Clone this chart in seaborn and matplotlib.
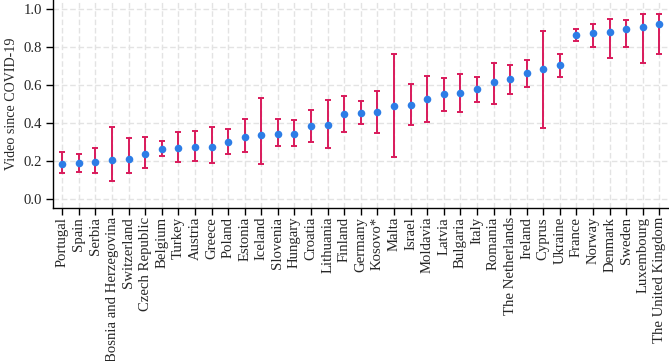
import numpy as np
import pandas as pd
import matplotlib
matplotlib.use("Agg")
import matplotlib.pyplot as plt
import seaborn as sns

countries = ["Portugal", "Spain", "Serbia", "Bosnia and Herzegovina", "Switzerland",
             "Czech Republic", "Belgium", "Turkey", "Austria", "Greece", "Poland",
             "Estonia", "Iceland", "Slovenia", "Hungary", "Croatia", "Lithuania",
             "Finland", "Germany", "Kosovo*", "Malta", "Israel", "Moldavia", "Latvia",
             "Bulgaria", "Italy", "Romania", "The Netherlands", "Ireland", "Cyprus",
             "Ukraine", "France", "Norway", "Denmark", "Sweden", "Luxembourg",
             "The United Kingdom"]
estimate = [0.186, 0.189, 0.195, 0.205, 0.214, 0.240, 0.265, 0.272, 0.277, 0.277,
            0.302, 0.330, 0.340, 0.346, 0.346, 0.384, 0.389, 0.447, 0.456, 0.458,
            0.493, 0.496, 0.530, 0.553, 0.561, 0.579, 0.616, 0.635, 0.667, 0.688,
            0.709, 0.868, 0.874, 0.881, 0.895, 0.909, 0.925]
upper = [0.247, 0.240, 0.270, 0.382, 0.323, 0.330, 0.307, 0.356, 0.361, 0.382,
         0.370, 0.423, 0.533, 0.423, 0.419, 0.472, 0.525, 0.544, 0.519, 0.572,
         0.768, 0.607, 0.647, 0.639, 0.658, 0.644, 0.718, 0.707, 0.733, 0.888,
         0.768, 0.895, 0.921, 0.949, 0.946, 0.975, 0.977]
lower = [0.137, 0.144, 0.137, 0.098, 0.137, 0.167, 0.226, 0.196, 0.204, 0.193,
         0.240, 0.249, 0.188, 0.279, 0.282, 0.304, 0.268, 0.354, 0.395, 0.349,
         0.223, 0.389, 0.407, 0.465, 0.460, 0.511, 0.502, 0.556, 0.591, 0.375,
         0.644, 0.835, 0.802, 0.742, 0.804, 0.718, 0.765]
yticks = [0.0, 0.2, 0.4, 0.6, 0.8, 1.0]
ylabel = "Video since COVID-19"

df = pd.DataFrame({"country": countries, "estimate": estimate,
                   "upper": upper, "lower": lower})

sns.set_style("white")
plt.rcParams["font.family"] = ["Liberation Serif", "DejaVu Serif"]

fig = plt.figure(figsize=(6.69, 3.61), dpi=100)
ax = fig.add_axes([0.0795, 0.424, 0.9185, 0.576])

pos = np.arange(len(df))
yerr = np.vstack([df["estimate"] - df["lower"], df["upper"] - df["estimate"]])
ax.errorbar(pos, df["estimate"], yerr=yerr, fmt="none", ecolor="#d91a5b",
            elinewidth=1.4, capsize=2.4, capthick=1.4, zorder=2)
sns.scatterplot(data=df, x="country", y="estimate", ax=ax, color="#2d7de6",
                s=30, linewidth=0, zorder=3)

ax.set_xlim(-0.55, len(df) - 0.5)
ax.set_ylim(-0.046, 1.05)
ax.set_yticks(yticks)
ax.set_yticklabels([f"{v:.1f}" for v in yticks])
ax.set_xticks(pos)
ax.set_xticklabels(countries, rotation=90, fontsize=10.6)
ax.set_xlabel("")
ax.set_ylabel(ylabel, fontsize=10.1, labelpad=4)

ax.grid(True, color="#e3e3e3", linestyle=(0, (4, 2)), linewidth=1.0, zorder=0)
ax.set_axisbelow(True)
for s in ["top", "right"]:
    ax.spines[s].set_visible(False)
for s in ["left", "bottom"]:
    ax.spines[s].set_color("black")
    ax.spines[s].set_linewidth(1.0)
ax.tick_params(axis="y", labelsize=10.6, pad=3)
ax.tick_params(axis="x", pad=1.5)
ax.tick_params(axis="both", which="both", direction="out", length=5, width=1,
               color="black", left=True, bottom=True)

fig.savefig("out.png", dpi=100)
